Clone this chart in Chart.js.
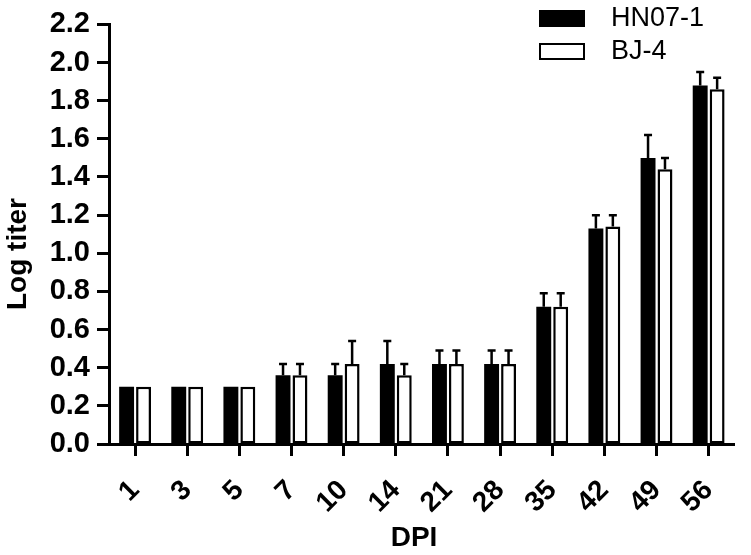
<!DOCTYPE html>
<html>
<head>
<meta charset="utf-8">
<script src="https://cdn.jsdelivr.net/npm/chart.js@4.4.0/dist/chart.umd.min.js"></script>
<style>
  html, body { margin: 0; padding: 0; background: #ffffff; }
  #wrap { width: 751px; height: 555px; }
</style>
</head>
<body>
<div id="wrap"><canvas id="c" width="751" height="555"></canvas></div>
<script>
const categories = ['1', '3', '5', '7', '10', '14', '21', '28', '35', '42', '49', '56'];
const seriesNames = ['HN07-1', 'BJ-4'];
const hnValues = [0.30, 0.30, 0.30, 0.36, 0.36, 0.42, 0.42, 0.42, 0.72, 1.13, 1.50, 1.88];
const hnErrors = [0, 0, 0, 0.06, 0.06, 0.12, 0.07, 0.07, 0.07, 0.07, 0.12, 0.07];
const bjValues = [0.30, 0.30, 0.30, 0.36, 0.42, 0.36, 0.42, 0.42, 0.72, 1.14, 1.44, 1.86];
const bjErrors = [0, 0, 0, 0.06, 0.12, 0.06, 0.07, 0.07, 0.07, 0.06, 0.06, 0.06];
const yTickValues = [0.0, 0.2, 0.4, 0.6, 0.8, 1.0, 1.2, 1.4, 1.6, 1.8, 2.0, 2.2];
const xTitle = 'DPI';
const yTitle = 'Log titer';

const FONT = "'Liberation Sans', Arial, Helvetica, sans-serif";

const errorBarPlugin = {
  id: 'errorBars',
  afterDatasetsDraw(chart) {
    const ctx = chart.ctx;
    const yScale = chart.scales.y;
    chart.data.datasets.forEach((ds, di) => {
      const meta = chart.getDatasetMeta(di);
      meta.data.forEach((bar, i) => {
        const err = ds.errors[i];
        if (!err) return;
        const yTop = yScale.getPixelForValue(ds.data[i] + err);
        const yBase = yScale.getPixelForValue(ds.data[i]);
        ctx.save();
        ctx.strokeStyle = '#000';
        ctx.lineWidth = 2.5;
        ctx.beginPath();
        ctx.moveTo(bar.x, yBase);
        ctx.lineTo(bar.x, yTop);
        ctx.moveTo(bar.x - 4, yTop);
        ctx.lineTo(bar.x + 4, yTop);
        ctx.stroke();
        ctx.restore();
      });
    });
  }
};

const legendAndTitles = {
  id: 'legendAndTitles',
  afterDraw(chart) {
    const ctx = chart.ctx;
    ctx.save();
    const rows = [{ y: 10 }, { y: 43 }];
    chart.data.datasets.forEach((ds, i) => {
      const y = rows[i].y;
      ctx.fillStyle = ds.backgroundColor;
      ctx.fillRect(539, y, 46, 17);
      ctx.strokeStyle = '#000';
      ctx.lineWidth = 2;
      ctx.strokeRect(540, y + 1, 44, 15);
      ctx.fillStyle = '#000';
      ctx.font = "27px " + FONT;
      ctx.textAlign = 'left';
      ctx.textBaseline = 'middle';
      ctx.fillText(ds.label, 611, y + 9);
    });
    ctx.fillStyle = '#000';
    ctx.font = "bold 28px " + FONT;
    ctx.textAlign = 'center';
    ctx.textBaseline = 'middle';
    ctx.fillText(xTitle, 414, 538);
    ctx.translate(18, 254);
    ctx.rotate(-Math.PI / 2);
    ctx.fillText(yTitle, 0, 0);
    ctx.restore();
  }
};

new Chart(document.getElementById('c'), {
  type: 'bar',
  data: {
    labels: categories,
    datasets: [
      {
        label: seriesNames[0],
        data: hnValues,
        errors: hnErrors,
        backgroundColor: '#000000',
        borderColor: '#000000',
        borderWidth: 0,
        categoryPercentage: 0.65,
        barPercentage: 0.88
      },
      {
        label: seriesNames[1],
        data: bjValues,
        errors: bjErrors,
        backgroundColor: '#ffffff',
        borderColor: '#000000',
        borderWidth: 2.5,
        borderSkipped: false,
        categoryPercentage: 0.65,
        barPercentage: 0.88
      }
    ]
  },
  options: {
    responsive: false,
    animation: false,
    layout: { padding: { top: 24, right: 14, left: 0, bottom: 0 } },
    plugins: {
      legend: { display: false },
      tooltip: { enabled: false },
      title: { display: false }
    },
    scales: {
      x: {
        type: 'category',
        offset: true,
        grid: {
          display: true,
          offset: false,
          drawOnChartArea: false,
          drawTicks: true,
          tickLength: 12,
          tickWidth: 3,
          tickColor: '#000'
        },
        border: { display: true, color: '#000', width: 3 },
        ticks: {
          color: '#000',
          font: { family: FONT, size: 28, weight: 'bold' },
          minRotation: 45,
          maxRotation: 45,
          autoSkip: false,
          padding: 18
        },
        afterFit(scale) { scale.height = 111; }
      },
      y: {
        min: 0,
        max: 2.2,
        afterBuildTicks(scale) {
          scale.ticks = yTickValues.map(v => ({ value: v }));
        },
        grid: {
          display: true,
          drawOnChartArea: false,
          drawTicks: true,
          tickLength: 12,
          tickWidth: 3,
          tickColor: '#000'
        },
        border: { display: true, color: '#000', width: 3 },
        ticks: {
          color: '#000',
          padding: 7,
          autoSkip: false,
          font: { family: FONT, size: 29, weight: 'bold' },
          callback: (v) => Number(v).toFixed(1)
        },
        afterFit(scale) { scale.width = 109; }
      }
    }
  },
  plugins: [errorBarPlugin, legendAndTitles]
});
</script>
</body>
</html>
